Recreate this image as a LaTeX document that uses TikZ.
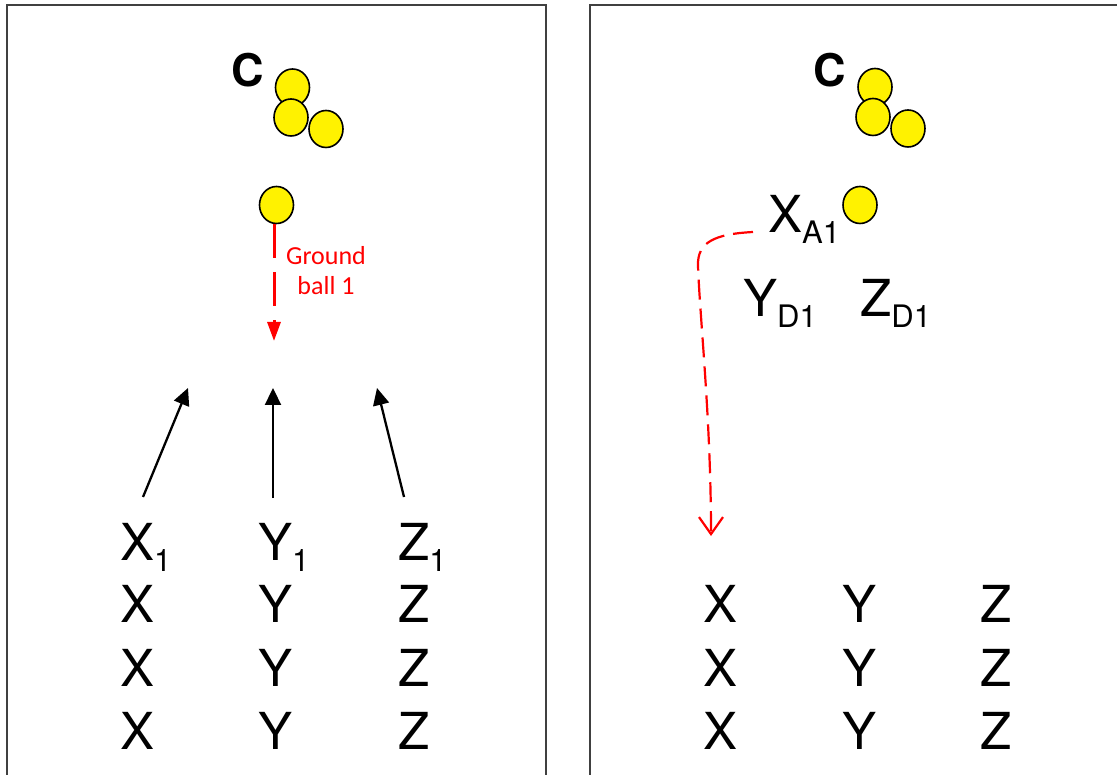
\documentclass[tikz,border=0pt]{standalone}
\usepackage{fontspec}
\setmainfont{TeX Gyre Heros}
\newfontfamily\fieldfont{TeX Gyre Heros}
\newfontfamily\notefont{Carlito}
\usetikzlibrary{arrows.meta,shapes.geometric}

% lowered index set after a fielder letter
\newcommand\lowidx[1]{\raisebox{-11pt}{\fieldfont\fontsize{31}{31}\selectfont #1}}

\begin{document}
\begin{tikzpicture}[x=1pt,y=-1pt,
  panel/.style={draw=black!75,line width=1.5pt},
  player/.style={ellipse,draw=black,line width=1.6pt,fill=yellow,
    minimum width=34pt,minimum height=37pt,inner sep=0pt},
  coachlabel/.style={anchor=base west,inner sep=0pt,
    font=\fieldfont\fontsize{45}{50}\selectfont\bfseries},
  fielder/.style={anchor=base west,inner sep=0pt,
    font=\fieldfont\fontsize{51}{60}\selectfont},
  run/.style={black,line width=2.3pt,-{Triangle[width=16pt,length=17pt]}},
  ballpath/.style={red,line width=3pt,dash pattern=on 34pt off 14pt,
    -{Triangle[width=13pt,length=19pt]}},
  movepath/.style={red,line width=2.2pt,dash pattern=on 20pt off 9pt,
    -{Straight Barb[width=24pt,length=17pt]}},
]
\fill[white] (0,0) rectangle (1117,775);
\useasboundingbox (0,0) rectangle (1117,775);
\clip (0,0) rectangle (1117,775);

% frames of the two panels (open at the bottom)
\draw[panel] (7,790) -- (7,5) -- (546,5) -- (546,790);
\draw[panel] (590,790) -- (590,5) -- (1130,5);

% ---------- left panel ----------
\node[coachlabel] (cL) at (231,87) {C};
\node[player] (pL1) at (292.5,87.5) {};
\node[player] (pL3) at (326,129) {};
\node[player] (pL2) at (291,117.5) {};
\node[player] (ballL) at (276.5,205) {};

\coordinate (gbtip) at (274,341);
\draw[ballpath] (ballL.south -| gbtip) -- (gbtip);
\node[red,font=\notefont\fontsize{26}{30}\selectfont,align=center,inner sep=0pt]
  (gblabel) at (326,271) {Ground\\ball 1};

\node[fielder] (x1) at (120,560) {X\lowidx{1}};
\node[fielder] (y1) at (258,560) {Y\lowidx{1}};
\node[fielder] (z1) at (398,560) {Z\lowidx{1}};
\foreach \r/\yy in {2/622,3/686,4/749}{
  \node[fielder] (xL\r) at (120,\yy) {X};
  \node[fielder] (yL\r) at (258,\yy) {Y};
  \node[fielder] (zL\r) at (398,\yy) {Z};
}

\coordinate (xrun) at (143,497);
\coordinate (yrun) at (273,498);
\coordinate (zrun) at (404,497);
\coordinate (xaim) at (188,388);
\coordinate (yaim) at (273,388);
\coordinate (zaim) at (377,388);
\draw[run] (xrun) -- (xaim);
\draw[run] (yrun) -- (yaim);
\draw[run] (zrun) -- (zaim);

% ---------- right panel ----------
\node[coachlabel] (cR) at (813,87) {C};
\node[player] (pR1) at (875,87) {};
\node[player] (pR3) at (908,128.5) {};
\node[player] (pR2) at (873,117) {};
\node[player] (ballR) at (860,205) {};

\node[fielder] (xa) at (768,233) {X\lowidx{A1}};
\node[fielder] (yd) at (743,317) {Y\lowidx{D1}};
\node[fielder] (zd) at (860,317) {Z\lowidx{D1}};

\foreach \r/\yy in {2/622,3/686,4/749}{
  \node[fielder] (xR\r) at (703,\yy) {X};
  \node[fielder] (yR\r) at (842,\yy) {Y};
  \node[fielder] (zR\r) at (980,\yy) {Z};
}

\coordinate (mvstart) at (753,232);
\coordinate (mvend) at (711,536);
\draw[movepath] (mvstart) .. controls (715,234) and (697,242) .. (698,266)
  .. controls (700,320) and (711,420) .. (mvend);
\end{tikzpicture}
\end{document}
